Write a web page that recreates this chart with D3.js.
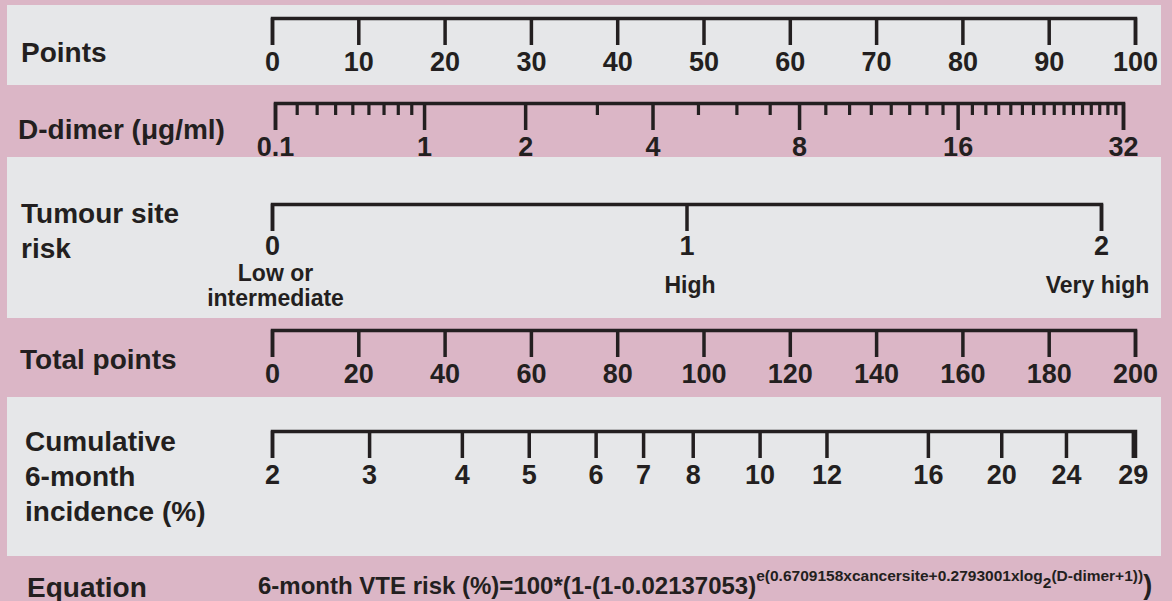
<!DOCTYPE html>
<html>
<head>
<meta charset="utf-8">
<script src="https://cdn.jsdelivr.net/npm/d3@7"></script>
<style>
  body { margin: 0; background: #fff; }
  svg text { font-family: "Liberation Sans", Arial, sans-serif; font-weight: bold; fill: #231f20; }
</style>
</head>
<body>
<svg id="nomogram" width="1172" height="601"></svg>
<script>
var WIDTH = 1172;
var HEIGHT = 601;
var PINK = "#dbb6c6";
var GRAY = "#e6e7e9";
var INK = "#231f20";

// axis values
var pointsTicks = [0, 10, 20, 30, 40, 50, 60, 70, 80, 90, 100];
var ddimerTicks = [0.1, 1, 2, 4, 8, 16, 32];
var ddimerMinor = [0.2, 0.3, 0.4, 0.5, 0.6, 0.7, 0.8, 0.9, 3, 5, 6, 7,
                   9, 10, 11, 12, 13, 14, 15,
                   17, 18, 19, 20, 21, 22, 23, 24, 25, 26, 27, 28, 29, 30, 31];
var siteTicks = [0, 1, 2];
var siteNames = [["Low or", "intermediate"], ["High"], ["Very high"]];
var totalTicks = [0, 20, 40, 60, 80, 100, 120, 140, 160, 180, 200];
var incidenceLabels = [2, 3, 4, 5, 6, 7, 8, 10, 12, 16, 20, 24, 29];
// total points at which each incidence tick sits
var incidencePoints = [0, 22.5, 44, 59.5, 75, 86, 97.5, 113, 128.5, 152, 169, 184, 199.5];

var rowLabels = [
    { lines: ["Points"], x: 21, y: 62 },
    { lines: ["D-dimer (\u03bcg/ml)"], x: 18, y: 139 },
    { lines: ["Tumour site", "risk"], x: 21, y: 223 },
    { lines: ["Total points"], x: 20, y: 369 },
    { lines: ["Cumulative", "6-month", "incidence (%)"], x: 25, y: 451 },
    { lines: ["Equation"], x: 27, y: 597 }
];

var TICK = 27;
var LABEL_Y = 53;

function main() {
    var svg = d3.select("#nomogram");

    svg.append("rect").attr("width", WIDTH).attr("height", HEIGHT).attr("fill", PINK);
    [[5, 85], [157, 318], [397, 556]].forEach(function(b) {
        svg.append("rect")
            .attr("x", 7).attr("y", b[0])
            .attr("width", 1161 - 7).attr("height", b[1] - b[0])
            .attr("fill", GRAY);
    });

    var pointsX = d3.scaleLinear().domain([0, 100]).range([272, 1135]);
    var ddimerX = d3.scaleLinear().domain([Math.log2(1.1), Math.log2(33)]).range([275, 1123]);
    var siteX = d3.scaleLinear().domain([0, 2]).range([272, 1101]);
    var totalX = d3.scaleLinear().domain([0, 200]).range([272, 1135]);

    drawAxis(svg, 18, d3.axisBottom(pointsX).tickValues(pointsTicks));

    // d-dimer sits on a log2(x+1) scale
    drawAxis(svg, 103, d3.axisBottom(ddimerX)
        .tickValues(ddimerTicks.map(function(d) { return Math.log2(d + 1); }))
        .tickFormat(function(d, i) { return ddimerTicks[i]; }));
    svg.append("g")
        .attr("transform", "translate(0,103)")
        .call(d3.axisBottom(ddimerX)
            .tickValues(ddimerMinor.map(function(d) { return Math.log2(d + 1); }))
            .tickSize(12).tickFormat(""))
        .call(function(g) {
            g.select(".domain").remove();
            g.selectAll("line").attr("stroke", INK).attr("stroke-width", 3.2);
        });

    var site = drawAxis(svg, 204, d3.axisBottom(siteX)
        .tickValues(siteTicks)
        .tickFormat(d3.format("d")));
    site.selectAll(".tick text").attr("y", 51);
    site.selectAll(".tick").each(function(d, i) {
        var t = d3.select(this);
        var lines = siteNames[i];
        var y0 = lines.length > 1 ? 77 : 89;
        lines.forEach(function(s, j) {
            t.append("text")
                .attr("x", i == 2 ? -4 : 3)
                .attr("y", y0 + j * 25)
                .attr("text-anchor", "middle")
                .style("font-size", "23px")
                .text(s);
        });
    });

    drawAxis(svg, 330, d3.axisBottom(totalX).tickValues(totalTicks));

    drawAxis(svg, 431, d3.axisBottom(totalX)
        .tickValues(incidencePoints)
        .tickFormat(function(d, i) { return incidenceLabels[i]; }));

    rowLabels.forEach(function(r) {
        r.lines.forEach(function(s, j) {
            svg.append("text")
                .attr("x", r.x)
                .attr("y", r.y + j * 35)
                .style("font-size", "28px")
                .text(s);
        });
    });

    addEquation(svg);
}

function drawAxis(svg, y, axis) {
    var g = svg.append("g")
        .attr("transform", "translate(0," + y + ")")
        .call(axis.tickSize(TICK).tickSizeOuter(TICK));
    g.attr("font-family", null).attr("font-size", null);
    g.select(".domain").attr("stroke", INK).attr("stroke-width", 3.5).attr("fill", "none");
    g.selectAll(".tick line").attr("stroke", INK).attr("stroke-width", 3.5);
    g.selectAll(".tick text")
        .attr("y", LABEL_Y)
        .attr("dy", null)
        .attr("fill", null)
        .style("font-size", "27px");
    return g;
}

function addEquation(svg) {
    var t = svg.append("text")
        .attr("x", 258)
        .attr("y", 594)
        .style("font-size", "24px");
    t.append("tspan").text("6-month VTE risk (%)=100*(1-(1-0.02137053)");
    t.append("tspan").attr("dy", -13).style("font-size", "15.5px")
        .text("e(0.6709158xcancersite+0.2793001xlog");
    t.append("tspan").attr("dy", 7).style("font-size", "15.5px").text("2");
    t.append("tspan").attr("dy", -7).style("font-size", "15.5px").text("(D-dimer+1))");
    t.append("tspan").attr("dy", 13).style("font-size", "27px").text(")");
}

main();
</script>
</body>
</html>
